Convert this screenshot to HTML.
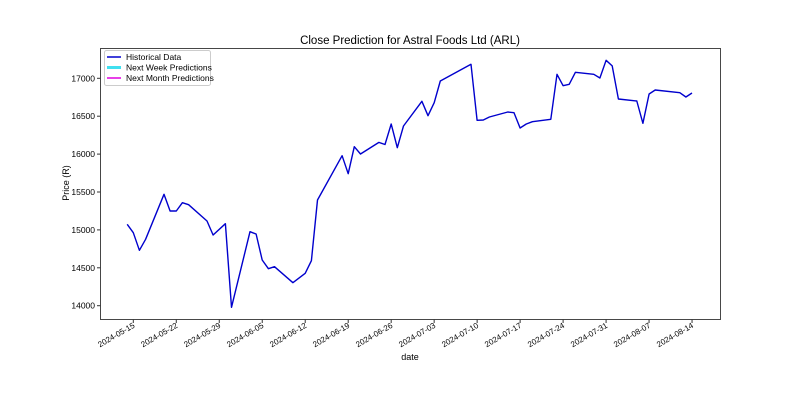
<!DOCTYPE html>
<html><head><meta charset="utf-8"><style>
body{margin:0;background:#fff;}
svg{display:block;font-family:"Liberation Sans","DejaVu Sans",sans-serif;}
</style></head><body>
<svg id="chart" width="800" height="400">
<rect x="0" y="0" width="800" height="400" fill="#fff"/>
<text x="410" y="44" text-anchor="middle" font-size="11.5">Close Prediction for Astral Foods Ltd (ARL)</text>
<g id="plot"></g>
<rect x="100.5" y="48.5" width="620" height="271" fill="none" stroke="#333" stroke-width="0.9"/>
<text x="410" y="360" text-anchor="middle" font-size="9">date</text>
<text transform="translate(69,183) rotate(-90)" text-anchor="middle" font-size="9">Price (R)</text>
<g>
<rect x="104.5" y="50.5" width="106" height="35" fill="#fff" stroke="#ccc" rx="2"/>
<line x1="107" y1="57" x2="121" y2="57" stroke="#0000cd" stroke-width="1.5"/>
<text x="126" y="60" font-size="8.5">Historical Data</text>
<line x1="107" y1="67.5" x2="121" y2="67.5" stroke="#40e0f0" stroke-width="3"/>
<text x="126" y="70.5" font-size="8.5">Next Week Predictions</text>
<line x1="107" y1="78" x2="121" y2="78" stroke="#e000e0" stroke-width="1.5"/>
<text x="126" y="81" font-size="8.5">Next Month Predictions</text>
</g>
</svg>
<script>
const dates=["2024-05-14","2024-05-15","2024-05-16","2024-05-17","2024-05-20","2024-05-21","2024-05-22","2024-05-23","2024-05-24","2024-05-27","2024-05-28","2024-05-30","2024-05-31","2024-06-03","2024-06-04","2024-06-05","2024-06-06","2024-06-07","2024-06-10","2024-06-12","2024-06-13","2024-06-14","2024-06-18","2024-06-19","2024-06-20","2024-06-21","2024-06-24","2024-06-25","2024-06-26","2024-06-27","2024-06-28","2024-07-01","2024-07-02","2024-07-03","2024-07-04","2024-07-09","2024-07-10","2024-07-11","2024-07-12","2024-07-15","2024-07-16","2024-07-17","2024-07-18","2024-07-19","2024-07-22","2024-07-23","2024-07-24","2024-07-25","2024-07-26","2024-07-29","2024-07-30","2024-07-31","2024-08-01","2024-08-02","2024-08-05","2024-08-06","2024-08-07","2024-08-08","2024-08-12","2024-08-13","2024-08-14"];
const closes=[15074,14963,14731,14876,15470,15249,15249,15359,15332,15117,14933,15082,13979,14976,14946,14603,14488,14515,14303,14427,14594,15394,15979,15741,16098,16001,16155,16127,16397,16085,16371,16697,16507,16678,16964,17185,16446,16450,16489,16555,16546,16344,16397,16428,16459,17053,16903,16921,17079,17053,17004,17237,17163,16727,16700,16406,16793,16846,16810,16753,16806];
const xTicks=["2024-05-15","2024-05-22","2024-05-29","2024-06-05","2024-06-12","2024-06-19","2024-06-26","2024-07-03","2024-07-10","2024-07-17","2024-07-24","2024-07-31","2024-08-07","2024-08-14"];
const yTicks=[14000,14500,15000,15500,16000,16500,17000];
const NS="http://www.w3.org/2000/svg";
const base=Date.UTC(2024,4,15);
function dayOf(s){const p=s.split("-");return (Date.UTC(+p[0],+p[1]-1,+p[2])-base)/86400000;}
function xS(s){return 133.3+dayOf(s)*6.14;}
function yS(v){return 78.3+(17000-v)*0.0758;}
const svg=document.getElementById("chart");
const g=document.getElementById("plot");
function mk(tag,attrs,parent){const e=document.createElementNS(NS,tag);for(const k in attrs)e.setAttribute(k,attrs[k]);(parent||g).appendChild(e);return e;}
yTicks.forEach(v=>{const y=yS(v);
 const t=mk("line",{x1:97,y1:y,x2:100.5,y2:y,stroke:"#333"});
 
 
 const l=mk("text",{x:95,y:y+3,"text-anchor":"end","font-size":"8.5"});
 l.textContent=v;
 
 
});
xTicks.forEach(d=>{const x=xS(d);
 const t=mk("line",{x1:x,y1:319.5,x2:x,y2:323,stroke:"#333"});
 
 
 const l=mk("text",{transform:"translate("+(x+2)+",327) rotate(-30)","text-anchor":"end","font-size":"8"});
 l.textContent=d;
 
 
});
const pts=dates.map((d,i)=>xS(d).toFixed(1)+","+yS(closes[i]).toFixed(1)).join(" ");
const line=mk("polyline",{points:pts,fill:"none",stroke:"#0000cd","stroke-width":1.4,"stroke-linejoin":"round"});


</script>
</body></html>
